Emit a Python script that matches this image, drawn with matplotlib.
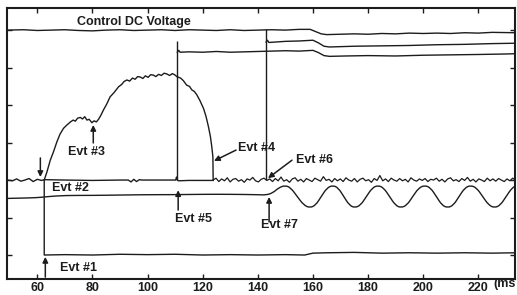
import numpy as np
import matplotlib
matplotlib.use("Agg")
import matplotlib.pyplot as plt
from matplotlib.path import Path
from matplotlib.patches import PathPatch

plt.rcParams["font.family"] = ["Liberation Sans", "DejaVu Sans"]
plt.rcParams["font.weight"] = "bold"

INK = "#1c1c1c"

# control DC voltage trace (top)
dc_t = [49.2, 55, 60, 65, 70, 75, 80, 85, 90, 95, 100, 105, 110, 115, 120, 125, 130,
        135, 140, 145, 150, 155, 159, 161, 163, 165, 170, 175, 180, 185, 190, 195, 200,
        205, 210, 215, 220, 225, 233.5]
dc_v = [6.00, 6.01, 5.99, 6.00, 6.01, 5.99, 5.98, 6.00, 6.01, 5.99, 6.00, 6.01, 5.99,
        6.01, 6.00, 5.99, 6.01, 5.99, 6.00, 6.01, 6.00, 6.02, 6.02, 5.96, 5.90, 5.88,
        5.89, 5.90, 5.89, 5.91, 5.90, 5.92, 5.91, 5.92, 5.91, 5.93, 5.92, 5.94, 5.93]

# trace starting at Evt #5
upper_t = [110.8, 111.3, 111.8, 115, 120, 125, 130, 135, 140, 145, 150, 155, 160, 162,
           164, 166, 172, 180, 190, 200, 210, 220, 228, 233.5]
upper_v = [5.41, 5.46, 5.41, 5.42, 5.41, 5.43, 5.41, 5.42, 5.43, 5.44, 5.45, 5.44, 5.46,
           5.40, 5.32, 5.30, 5.31, 5.32, 5.31, 5.33, 5.34, 5.35, 5.36, 5.37]

# trace starting at Evt #6/#7
mid_t = [143.0, 143.5, 144.0, 150, 155, 160, 162, 164, 166, 175, 185, 195, 205, 215,
         225, 233.5]
mid_v = [5.68, 5.73, 5.67, 5.70, 5.71, 5.73, 5.66, 5.57, 5.55, 5.57, 5.58, 5.59, 5.61,
         5.62, 5.64, 5.65]

# hump trace (Evt #2 .. Evt #4)
hump_t = [62.5, 63.5, 64.7, 65.8, 67.1, 68.2, 69.5, 70.6, 72.0, 73.0, 73.8, 74.6, 75.6,
          76.4, 77.2, 78.0, 78.8, 79.8, 80.6, 81.4, 82.2, 83.0, 84.0, 85.2, 86.4, 87.8,
          89.5, 90.6, 91.5, 92.5, 93.5, 94.5, 95.5, 96.4, 97.3, 98.3, 99.2, 100.2, 101.1,
          102.1, 103.0, 104.0, 105.0, 106.0, 107.0, 108.0, 109.0, 110.0, 110.6, 112.0,
          113.0, 114.2, 115.2, 116.0, 117.0, 117.9, 119.0, 120.3, 121.2, 122.1, 122.8,
          123.3, 123.7, 123.8]
hump_v = [2.00, 2.22, 2.53, 2.74, 3.02, 3.22, 3.38, 3.46, 3.55, 3.60, 3.57, 3.65, 3.67,
          3.63, 3.69, 3.60, 3.62, 3.53, 3.58, 3.55, 3.62, 3.72, 3.87, 4.03, 4.22, 4.33,
          4.49, 4.55, 4.63, 4.67, 4.64, 4.72, 4.69, 4.76, 4.75, 4.71, 4.78, 4.74, 4.81,
          4.80, 4.76, 4.82, 4.79, 4.85, 4.83, 4.79, 4.84, 4.80, 4.76, 4.72, 4.65, 4.53,
          4.50, 4.41, 4.36, 4.27, 4.12, 3.91, 3.70, 3.42, 3.16, 2.89, 2.62, 2.00]

# baseline trace around level 2
base_t = [49.2, 51, 52.5, 54, 55.5, 57, 58.5, 60, 61.5, 62.5, 70, 80, 90, 93, 94, 95,
          96, 97, 98, 105, 110.2, 110.5, 110.8, 111.2, 115, 123.8]
base_v = [2.00, 1.98, 2.03, 1.97, 2.00, 2.04, 1.96, 2.02, 1.99, 2.01, 2.00, 1.99, 2.00,
          2.00, 1.95, 2.02, 1.96, 2.01, 2.00, 2.00, 2.00, 2.08, 2.00, 1.98, 1.99, 1.99]
noise_v = [2.00, 2.05, 1.96, 2.03, 1.98, 2.06, 1.95, 2.02, 2.04, 1.97, 2.01, 1.94, 2.03,
           2.00, 2.07, 1.98, 1.95, 2.02, 2.05, 1.99, 2.03, 1.96, 2.04, 1.98, 2.08, 1.97,
           2.01, 1.94, 2.03, 2.06, 1.97, 2.02, 1.95, 2.04, 2.00, 1.96, 2.05, 2.01, 1.97,
           2.09, 1.99, 2.02, 1.95, 2.04, 1.98, 2.03, 1.96, 2.06, 2.00, 1.97, 2.04, 1.95,
           2.02, 2.05, 1.98, 2.01, 1.94, 2.04, 1.99, 2.12, 1.98, 2.03, 1.96, 2.05, 2.00,
           1.97, 2.04, 1.98, 2.02, 1.95, 2.06, 2.00, 1.97, 2.03, 1.99, 2.04, 1.96, 2.02,
           2.00, 2.05, 1.97, 2.02, 1.95, 2.03, 2.06, 1.98, 2.01, 1.96, 2.04, 1.99, 2.07,
           1.97, 2.02, 1.95, 2.03, 2.00, 1.96, 2.05, 1.98, 2.03, 1.97, 2.04, 2.00, 1.96,
           2.03, 1.98, 2.05, 2.00]

# flat then oscillating trace
osc_t = [49.2, 55, 60, 64, 70, 80, 90, 100, 110, 120, 130, 140, 143.0, 145.5, 147.5,
         149.9, 152.0, 154.3, 156.7, 158.9, 161.0, 163.0, 165.1, 167.2, 169.2, 171.2,
         173.2, 175.2, 177.3, 179.4, 181.5, 183.6, 185.7, 187.8, 189.9, 191.9, 194.1,
         196.2, 198.4, 200.6, 202.7, 204.8, 206.8, 208.9, 211.0, 213.0, 215.1, 217.2,
         219.4, 221.6, 223.8, 225.9, 228.0, 230.1, 232.2, 234.0]
osc_v = [1.51, 1.52, 1.53, 1.56, 1.59, 1.59, 1.60, 1.61, 1.61, 1.62, 1.62, 1.61, 1.60,
         1.66, 1.79, 1.86, 1.79, 1.56, 1.33, 1.26, 1.33, 1.56, 1.79, 1.86, 1.79, 1.56,
         1.33, 1.26, 1.33, 1.56, 1.79, 1.86, 1.79, 1.56, 1.33, 1.26, 1.33, 1.56, 1.79,
         1.86, 1.79, 1.56, 1.33, 1.26, 1.33, 1.56, 1.79, 1.86, 1.79, 1.56, 1.33, 1.26,
         1.33, 1.56, 1.79, 1.86]

# bottom trace after Evt #1
low_t = [62.5, 62.5, 70, 80, 90, 100, 110, 120, 130, 140, 150, 157, 160, 165, 175, 185,
         195, 205, 215, 225, 233.5]
low_v = [2.00, 0.00, 0.01, 0.00, 0.02, 0.01, 0.02, 0.00, 0.01, 0.00, 0.01, 0.00, 0.05,
         0.06, 0.07, 0.05, 0.06, 0.05, 0.06, 0.05, 0.06]

# vertical event lines: time, bottom, top
vert_t = [110.8, 143.0]
vert_lo = [2.0, 2.0]
vert_hi = [5.72, 6.02]

# event labels: text pos, arrow tail, arrow head
events = ["Evt #1", "Evt #2", "Evt #3", "Evt #4", "Evt #5", "Evt #6", "Evt #7"]
label_xy = [(68.3, -0.35), (65.4, 1.79), (71.2, 2.75), (132.8, 2.85), (110.0, 0.96),
            (153.8, 2.53), (141.2, 0.80)]
tail_xy = [(62.9, -0.59), (61.1, 2.59), (80.3, 2.99), (132.1, 2.80), (111.1, 1.20),
           (152.4, 2.53), (144.1, 0.88)]
head_xy = [(62.9, -0.05), (61.1, 2.08), (80.3, 3.47), (124.1, 2.51), (111.1, 1.73),
           (143.7, 2.05), (144.1, 1.55)]


def smooth_trace(ax, xs, ys, **kw):
    # quadratic bezier through midpoints, read points act as control points
    verts = [(xs[0], ys[0])]
    codes = [Path.MOVETO]
    for i in range(1, len(xs) - 1):
        verts.append((xs[i], ys[i]))
        verts.append(((xs[i] + xs[i + 1]) / 2, (ys[i] + ys[i + 1]) / 2))
        codes += [Path.CURVE3, Path.CURVE3]
    verts.append((xs[-1], ys[-1]))
    codes.append(Path.LINETO)
    ax.add_patch(PathPatch(Path(verts, codes), fill=False, edgecolor=kw["color"],
                           lw=kw["lw"]))


fig = plt.figure(figsize=(5.17, 2.95), dpi=100)
ax = fig.add_axes([0.0141, 0.0542, 0.9814, 0.9187])

lw = 1.0
ax.plot(dc_t, dc_v, color=INK, lw=lw)
ax.plot(upper_t, upper_v, color=INK, lw=lw)
ax.plot(mid_t, mid_v, color=INK, lw=lw)
ax.plot(hump_t, hump_v, color=INK, lw=lw)
ax.plot(base_t, base_v, color=INK, lw=lw)
ax.plot(np.linspace(123.8, 233.5, len(noise_v)), noise_v, color=INK, lw=0.9)
smooth_trace(ax, osc_t, osc_v, color=INK, lw=lw)
ax.plot(low_t, low_v, color=INK, lw=lw)
ax.vlines(vert_t, vert_lo, vert_hi, color=INK, lw=lw)

for name, lxy, txy, hxy in zip(events, label_xy, tail_xy, head_xy):
    ax.text(lxy[0], lxy[1], name, fontsize=9, fontweight="bold", color=INK,
            ha="left", va="center")
    ax.annotate("", xy=hxy, xytext=txy,
                arrowprops=dict(arrowstyle="-|>", color=INK, lw=1.1, mutation_scale=8,
                                shrinkA=0, shrinkB=0))

ax.text(95.1, 6.21, "Control DC Voltage", fontsize=9, fontweight="bold", color=INK,
        ha="center", va="center")

ax.set_xlim(49.1, 233.2)
ax.set_ylim(-0.64, 6.59)
ax.set_xticks([60, 80, 100, 120, 140, 160, 180, 200, 220])
ax.set_yticks([0, 1, 2, 3, 4, 5, 6])
ax.set_yticklabels([])
ax.tick_params(direction="in", length=3.5, width=1.0, top=True, right=True,
               labelsize=9, colors=INK, pad=2)
for lab in ax.get_xticklabels():
    lab.set_fontweight("bold")
for s in ax.spines.values():
    s.set_linewidth(1.5)
    s.set_color(INK)

fig.text(516 / 517, 1 - 284 / 295, "(ms", fontsize=9, fontweight="bold", color=INK,
         ha="right", va="center")

fig.savefig("out.png", dpi=100)
